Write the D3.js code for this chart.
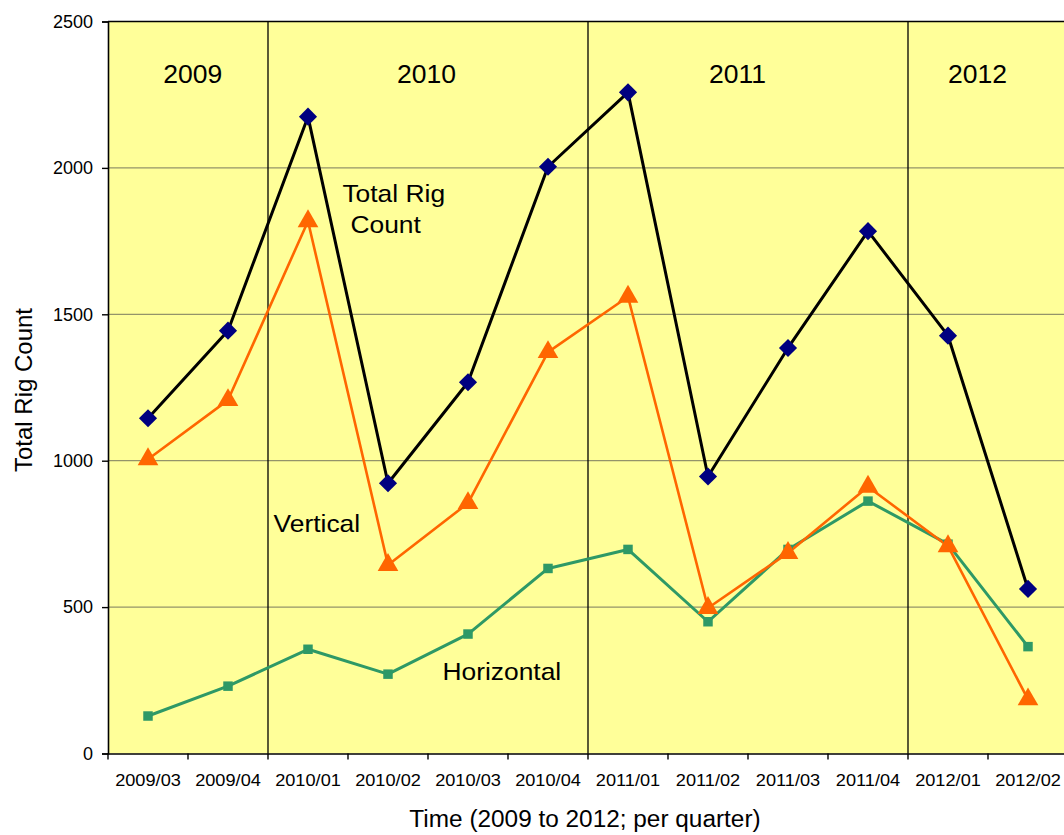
<!DOCTYPE html>
<html><head><meta charset="utf-8">
<script src="https://cdn.jsdelivr.net/npm/d3@7"></script>
<style>body{margin:0;background:#fff;}svg{display:block;font-family:Arial,"Liberation Sans",sans-serif;}</style>
</head><body><svg id="c" width="1064" height="835"></svg>
<script>
const quarters = ["2009/03","2009/04","2010/01","2010/02","2010/03","2010/04","2011/01","2011/02","2011/03","2011/04","2012/01","2012/02"];
const totalRigs = [1145,1444,2175,923,1268,2004,2258,946,1385,1784,1427,562];
const verticalRigs = [1005,1207,1818,644,855,1371,1560,497,685,911,708,185];
const horizontalRigs = [128,230,356,271,408,632,697,450,697,862,715,365];
const yTicks = [0,500,1000,1500,2000,2500];
const yearLabels = ["2009","2010","2011","2012"];
const yearStarts = ["2009/03","2010/01","2011/01","2012/01"];

// annotation placement (in quarter-index units / data units)
const yearLabelPos = [1.06, 3.98, 7.87, 10.87];
const seriesLabels = [
  {text:"Total Rig", q:2.93, v:1884},
  {text:"Count", q:3.03, v:1779},
  {text:"Vertical", q:2.07, v:757},
  {text:"Horizontal", q:4.18, v:252}
];

const svg = d3.select("#c");
const L=108, R=1068, T=21.5, B=753.5;
const x = d3.scaleBand().domain(quarters).range([L,R]);
const y = d3.scaleLinear().domain([0,2500]).range([B,T]);
const bw = x.bandwidth();
const xc = q => x(q)+bw/2;
const xq = f => L + f*bw;

function label(px,py,txt,size,sx,anchor){
  return svg.append("text").attr("transform",`translate(${px},${py}) scale(${sx},1)`)
    .attr("text-anchor",anchor||"start").attr("font-size",size).attr("fill","#000").text(txt);
}

svg.append("rect").attr("x",L).attr("y",T).attr("width",R-L).attr("height",B-T).attr("fill","#FFFF99");

svg.append("g").selectAll("line").data(yTicks.filter(d=>d>0&&d<2500)).join("line")
  .attr("x1",L).attr("x2",R).attr("y1",d=>y(d)).attr("y2",d=>y(d))
  .attr("stroke","#94946a").attr("stroke-width",1.3);

// year dividers
svg.append("g").selectAll("line").data(yearStarts.slice(1)).join("line")
  .attr("x1",d=>x(d)).attr("x2",d=>x(d))
  .attr("y1",T).attr("y2",B).attr("stroke","#000").attr("stroke-width",1.3);
svg.append("line").attr("x1",L).attr("x2",R).attr("y1",T).attr("y2",T).attr("stroke","#000").attr("stroke-width",1.5);

// year labels
yearLabels.forEach((t,i)=>label(xq(yearLabelPos[i]),83,t,26,1.02,"middle"));

// y axis
const yAxis = d3.axisLeft(y).tickValues(yTicks).tickSize(6).tickPadding(9).tickFormat(d3.format("d"));
const gy = svg.append("g").attr("transform",`translate(${L},0)`).call(yAxis);
gy.attr("font-size",null).attr("font-family",null);
gy.select(".domain").attr("stroke","#000").attr("stroke-width",1.6);
gy.selectAll(".tick line").attr("stroke","#000").attr("stroke-width",1.4);
gy.selectAll(".tick text").attr("font-size",18).attr("fill","#000");

// x axis
const xAxis = d3.axisBottom(x).tickSize(0).tickPadding(0);
const gx = svg.append("g").attr("transform",`translate(0,${B})`).call(xAxis);
gx.attr("font-size",null).attr("font-family",null);
gx.select(".domain").attr("stroke","#000").attr("stroke-width",1.6);
gx.selectAll(".tick text").attr("dy",null).attr("y",33).attr("font-size",17).attr("fill","#000")
  .attr("transform","scale(1.07,1)");
gx.append("g").selectAll("line").data(quarters).join("line")
  .attr("x1",d=>x(d)).attr("x2",d=>x(d)).attr("y1",0).attr("y2",6).attr("stroke","#000").attr("stroke-width",1.4);

// lines
function drawSeries(vals,color,width){
  const line = d3.line().x((d,i)=>xc(quarters[i])).y(d=>y(d));
  svg.append("path").datum(vals).attr("d",line).attr("fill","none").attr("stroke",color).attr("stroke-width",width).attr("stroke-linejoin","round");
}
drawSeries(horizontalRigs,"#2E9966",3);
drawSeries(verticalRigs,"#FF6600",2.6);
drawSeries(totalRigs,"#000000",3);

svg.append("g").selectAll("path").data(horizontalRigs).join("path")
  .attr("d",d3.symbol().type(d3.symbolSquare).size(90))
  .attr("transform",(d,i)=>`translate(${xc(quarters[i])},${y(d)})`).attr("fill","#2E9966");
svg.append("g").selectAll("path").data(verticalRigs).join("path")
  .attr("d",d3.symbol().type(d3.symbolTriangle).size(185))
  .attr("transform",(d,i)=>`translate(${xc(quarters[i])},${y(d)})`).attr("fill","#FF6600");
svg.append("g").selectAll("path").data(totalRigs).join("path")
  .attr("d",d3.symbol().type(d3.symbolSquare).size(165))
  .attr("transform",(d,i)=>`translate(${xc(quarters[i])},${y(d)}) rotate(45)`).attr("fill","#000080");

// series labels
seriesLabels.forEach(s=>label(xq(s.q),y(s.v),s.text,24,1.1));

// axis titles
svg.append("text").attr("transform",`translate(32,390) rotate(-90)`).attr("text-anchor","middle")
  .attr("font-size",24).attr("fill","#000").text("Total Rig Count");
label(585,827,"Time (2009 to 2012; per quarter)",23,1.06,"middle");
</script></body></html>
